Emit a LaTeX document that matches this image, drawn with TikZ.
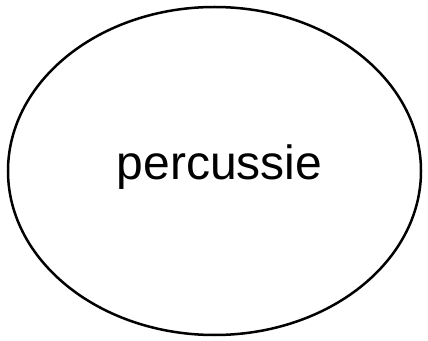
\documentclass[tikz,border=0pt]{standalone}
\usepackage{fontspec}
\setmainfont{Liberation Sans}
\usetikzlibrary{shapes.geometric}
\begin{document}
\begin{tikzpicture}[x=1pt,y=1pt,
  oval/.style={draw=black, line width=2.5pt, ellipse, inner sep=0pt, minimum width=413pt, minimum height=328pt},
  lbl/.style={font=\fontsize{48}{56}\selectfont, inner sep=0pt, anchor=base}]
\useasboundingbox (0,0) rectangle (428,340);
\node[oval] (e) at (214.5,169) {};
\node[lbl] (t) at (219.5,160) {percussie};
\end{tikzpicture}
\end{document}
